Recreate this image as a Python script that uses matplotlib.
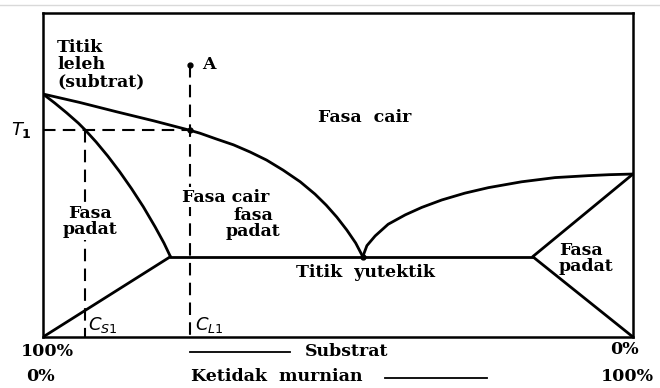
import matplotlib
matplotlib.use("Agg")
import matplotlib.pyplot as plt
from matplotlib.lines import Line2D

# diagram fasa eutektik: x = kadar ketidakmurnian (%), y = suhu (skala relatif)
T_leleh = 75.0        # titik leleh substrat murni
T_leleh_imp = 50.3    # titik leleh komponen kedua
T_1 = 63.8
T_eut = 24.8
x_eut = 54.2
x_sol_kiri = 21.6     # kelarutan maksimum di sisi kiri
x_sol_kanan = 83.0
C_S1 = 7.2
C_L1 = 24.9
T_A = 84.0

liq_kiri_x = [0, 6.2, 12.5, 18.8, C_L1, 26.6, 29.4, 32.3, 35.1, 37.9, 40.7,
              43.6, 46.1, 48.0, 49.8, 51.5, 53.0, x_eut]
liq_kiri_y = [T_leleh, 72.4, 69.5, 66.7, T_1, 62.9, 61.1, 59.3, 57.1, 54.6, 51.5,
              47.9, 44.1, 40.7, 37.0, 33.0, 29.0, T_eut]
sol_kiri_x = [0, 2, 4, 6, C_S1, 9, 11, 13, 15, 17, 19, 20.5, x_sol_kiri]
sol_kiri_y = [T_leleh, 72.2, 69.2, 66.0, T_1, 60.2, 55.8, 51.0, 45.8, 40.2, 34.0, 29.0, T_eut]
liq_kanan_x = [x_eut, 54.9, 56.3, 58.5, 61.4, 64.2, 67.6, 71.5, 75.5, 81.1,
               86.8, 92.4, 96.0, 100]
liq_kanan_y = [T_eut, 28.2, 31.2, 34.8, 37.7, 40.0, 42.3, 44.4, 46.1, 47.9,
               49.2, 49.8, 50.1, T_leleh_imp]

fig = plt.figure(figsize=(6.6, 3.88), dpi=100)
ax = fig.add_axes([43 / 660, 51 / 388, 590 / 660, 324 / 388])
ax.set_xlim(0, 100)
ax.set_ylim(0, 100)
ax.set_xticks([])
ax.set_yticks([])
for s in ax.spines.values():
    s.set_linewidth(1.8)

garis = dict(color="black", lw=2.0, solid_capstyle="round", solid_joinstyle="round")
ax.plot(liq_kiri_x, liq_kiri_y, **garis)
ax.plot(sol_kiri_x, sol_kiri_y, **garis)
ax.plot(liq_kanan_x, liq_kanan_y, **garis)
ax.plot([0, x_sol_kiri], [0, T_eut], **garis)
ax.plot([x_sol_kiri, x_sol_kanan], [T_eut, T_eut], **garis)
ax.plot([100, x_sol_kanan, 100], [T_leleh_imp, T_eut, 0], **garis)

putus = dict(color="black", lw=1.5, dashes=(6, 3.5))
ax.plot([C_L1, C_L1], [T_A, 0], **putus)
ax.plot([0, C_L1], [T_1, T_1], **putus)
ax.plot([C_S1, C_S1], [T_1, 0], **putus)

ax.plot([C_L1, C_L1, x_eut], [T_A, T_1, T_eut], "o", color="black", ms=3.5)

teks = dict(family="DejaVu Serif", weight="bold", fontsize=12.5, color="black")
latar = dict(facecolor="white", edgecolor="none", pad=1.0)
ax.text(2.4, 84.0, "Titik\nleleh\n(subtrat)", ha="left", va="center",
        linespacing=1.02, **teks)
ax.text(27.0, T_A, "A", ha="left", va="center", **teks)
ax.text(54.6, 67.9, "Fasa  cair", ha="center", va="center", **teks)
ax.text(8.0, 35.6, "Fasa\npadat", ha="center", va="center", linespacing=0.95,
        bbox=latar, zorder=3, **teks)
ax.text(31.0, 43.2, "Fasa cair", ha="center", va="center", bbox=latar, zorder=3, **teks)
ax.text(35.6, 35.0, "fasa\npadat", ha="center", va="center", linespacing=0.95, **teks)
ax.text(54.7, 20.0, "Titik  yutektik", ha="center", va="center", **teks)
ax.text(87.4, 24.2, "Fasa\npadat", ha="left", va="center", linespacing=0.9, **teks)

ax.text(-3.6, T_1, r"$\mathbf{\mathit{T}_1}$", ha="center", va="center",
        fontsize=13, clip_on=False)
ax.text(C_S1 + 0.4, 3.7, r"$\mathit{C}_{\mathit{S}1}$", ha="left", va="center",
        fontsize=13, clip_on=False)
ax.text(C_L1 + 0.8, 3.7, r"$\mathit{C}_{\mathit{L}1}$", ha="left", va="center",
        fontsize=13, clip_on=False)

ax.text(0.7, -4.6, "100%", ha="center", va="center", clip_on=False, **teks)
ax.text(-0.5, -12.3, "0%", ha="center", va="center", clip_on=False, **teks)
ax.text(98.6, -4.0, "0%", ha="center", va="center", clip_on=False, **teks)
ax.text(99.0, -12.3, "100%", ha="center", va="center", clip_on=False, **teks)
ax.text(51.4, -4.6, "Substrat", ha="center", va="center", clip_on=False, **teks)
ax.text(39.7, -12.3, "Ketidak  murnian", ha="center", va="center", clip_on=False, **teks)
ax.plot([24.9, 41.9], [-4.6, -4.6], color="black", lw=1.3, clip_on=False)
ax.plot([58.0, 75.3], [-12.6, -12.6], color="black", lw=1.3, clip_on=False)

# garis tipis abu-abu di tepi atas
fig.add_artist(Line2D([0, 1], [1 - 5 / 388, 1 - 5 / 388], color="#d9d9d9", lw=1.0))

fig.savefig("out.png", dpi=100)
